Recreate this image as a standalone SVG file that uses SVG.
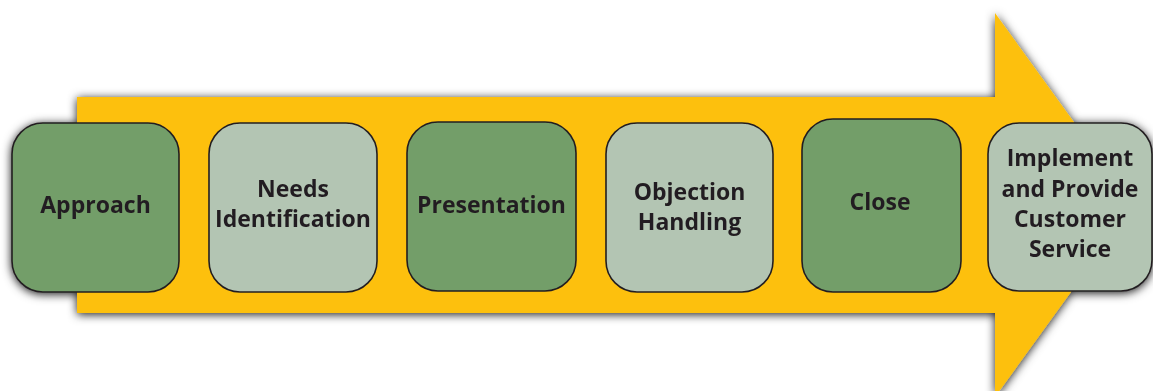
<svg xmlns="http://www.w3.org/2000/svg" width="1153" height="391" viewBox="0 0 1153 391">
  <defs>
    <filter id="softShadow" x="-10%" y="-20%" width="120%" height="140%">
      <feDropShadow dx="0" dy="1.5" stdDeviation="5" flood-color="#000000" flood-opacity="0.9"/>
    </filter>
  </defs>
  <style>
    .step { stroke: #231f20; stroke-width: 1.6; }
    .dark { fill: #739e69; }
    .light { fill: #b3c5b3; }
    .label { font-family: "Open Sans", "Liberation Sans", sans-serif; font-weight: 700; font-size: 23px; fill: #231f20; text-anchor: middle; }
  </style>
  <rect width="1153" height="391" fill="#ffffff"/>
  <g filter="url(#softShadow)">
    <!-- process arrow -->
    <g id="connectors">
      <path id="process-arrow" d="M77 97 H995 V13 L1134 205 L995 397 V313 H77 Z" fill="#fdc010"/>
    </g>
    <g id="approach">
      <rect class="step dark" x="12" y="123" width="167" height="169" rx="31"/>
      <text class="label" x="95.5" y="213">Approach</text>
    </g>
    <g id="needs-identification">
      <rect class="step light" x="209" y="123" width="168" height="169" rx="31"/>
      <text class="label" x="293" y="197">Needs</text>
      <text class="label" x="293" y="227">Identification</text>
    </g>
    <g id="presentation">
      <rect class="step dark" x="407" y="122" width="169" height="169" rx="31"/>
      <text class="label" x="491.5" y="213">Presentation</text>
    </g>
    <g id="objection-handling">
      <rect class="step light" x="606" y="123" width="167" height="169" rx="31"/>
      <text class="label" x="689.5" y="200">Objection</text>
      <text class="label" x="689.5" y="230">Handling</text>
    </g>
    <g id="close">
      <rect class="step dark" x="802" y="119" width="159" height="173" rx="31"/>
      <text class="label" x="880" y="210">Close</text>
    </g>
    <g id="implement-service">
      <rect class="step light" x="988" y="123" width="164" height="168" rx="31"/>
      <text class="label" x="1070" y="166">Implement</text>
      <text class="label" x="1070" y="197">and Provide</text>
      <text class="label" x="1070" y="227">Customer</text>
      <text class="label" x="1070" y="257">Service</text>
    </g>
  </g>
</svg>
